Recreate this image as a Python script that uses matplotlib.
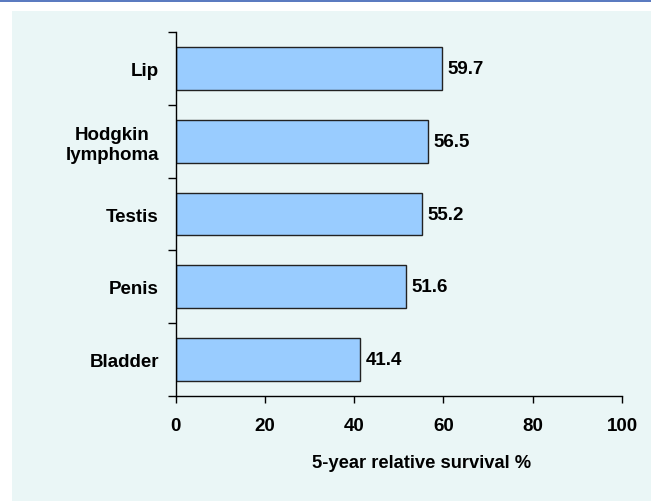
import matplotlib
matplotlib.use("Agg")
import matplotlib.pyplot as plt
from matplotlib.patches import Rectangle
from matplotlib.ticker import FixedLocator

plt.rcParams['font.family'] = ['Liberation Sans', 'DejaVu Sans']
plt.rcParams['font.weight'] = 'bold'

# Cancer sites (top to bottom) and 5-year relative survival (%)
sites = ["Lip", "Hodgkin\nlymphoma", "Testis", "Penis", "Bladder"]
survival = [59.7, 56.5, 55.2, 51.6, 41.4]
x_ticks = [0, 20, 40, 60, 80, 100]
x_label = "5-year relative survival %"

W, H = 651, 502
FS = 13.5
fig = plt.figure(figsize=(W / 100, H / 100), dpi=100, facecolor="white")

# Panel background and top rule
fig.patches.append(Rectangle((12 / W, 0), 1 - 12 / W, 1 - 12 / H,
                             transform=fig.transFigure, facecolor="#eaf6f6",
                             edgecolor="none", zorder=-2))
fig.patches.append(Rectangle((0, 1 - 2.5 / H), 1, 2.5 / H,
                             transform=fig.transFigure, facecolor="#5b7bc0",
                             edgecolor="none", zorder=-2))

ax = fig.add_axes([175.5 / W, 1 - 396.7 / H, (622 - 175.5) / W, (396.7 - 33.3) / H])
ax.set_facecolor("none")
ax.set_zorder(1)

n = len(sites)
ypos = list(range(n - 1, -1, -1))
ax.barh(ypos, survival, height=0.585, color="#99ccff", edgecolor="#222222",
        linewidth=1.0, zorder=2)

for y, v in zip(ypos, survival):
    ax.text(v + 1.2, y, f"{v:.1f}", va="center", ha="left",
            fontsize=FS, fontweight="bold", color="black")

ax.set_xlim(0, 100)
ax.set_ylim(-0.5, n - 0.5)

ax.set_xticks(x_ticks)
ax.set_xticklabels([str(t) for t in x_ticks], fontsize=FS, fontweight="bold")
ax.tick_params(axis="x", length=5, width=1, pad=10, direction="out")

ax.set_yticks(ypos)
ax.set_yticklabels(sites, fontsize=FS, fontweight="bold")
ax.tick_params(axis="y", which="major", length=0, pad=12)
ax.yaxis.set_minor_locator(FixedLocator([i - 0.5 for i in range(n + 1)]))
ax.tick_params(axis="y", which="minor", length=6, width=1, direction="out")

for lbl in ax.get_yticklabels():
    lbl.set_multialignment("center")
    lbl.set_linespacing(1.2)

ax.set_xlabel(x_label, fontsize=13.2, fontweight="bold", labelpad=15, x=0.55)

for side in ("top", "right"):
    ax.spines[side].set_visible(False)
for side in ("left", "bottom"):
    ax.spines[side].set_linewidth(1)
    ax.spines[side].set_color("black")

fig.savefig("out.png", dpi=100, facecolor=fig.get_facecolor())
